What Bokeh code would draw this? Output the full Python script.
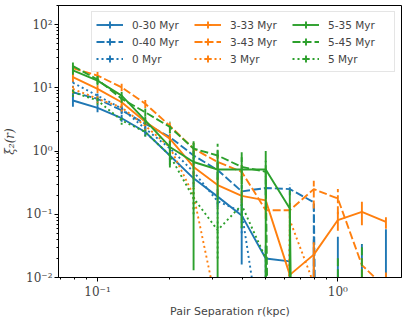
import numpy as np
from bokeh.plotting import figure
from bokeh.models import FixedTicker, CustomJSTickFormatter, Legend, LegendItem
from bokeh.embed import file_html
from bokeh.resources import INLINE

# ---------------- data ----------------
sep_kpc = [0.079, 0.1, 0.126, 0.158, 0.2, 0.251, 0.316, 0.398, 0.501, 0.631, 0.794, 1.0, 1.259, 1.585]

labels = ["0-30 Myr", "0-40 Myr", "0 Myr",
          "3-33 Myr", "3-43 Myr", "3 Myr",
          "5-35 Myr", "5-45 Myr", "5 Myr"]

# xi_2(r) values (0 = not positive, clipped on the log axis)
xi_0_30 = [6.3, 4.8, 3.3, 2.0, 0.85, 0.37, 0.19, 0.096, 0.020, 0.018, 0, 0, 0, 0]
xi_0_40 = [8.5, 6.7, 4.4, 2.7, 1.66, 0.85, 0.50, 0.23, 0.26, 0.25, 0.155, 0, 0, 0]
xi_0 = [12.0, 7.5, 4.7, 2.25, 1.1, 0.47, 0.16, 0.11, 0.00036, 0, 0, 0, 0, 0]
xi_3_33 = [14.7, 9.6, 5.9, 2.9, 1.57, 0.56, 0.29, 0.195, 0.166, 0.011, 0.023, 0.081, 0.109, 0.076]
xi_3_43 = [20.4, 15.6, 10.2, 5.6, 2.5, 1.09, 0.67, 0.47, 0.116, 0.116, 0.25, 0.177, 0.0157, 0.0068]
xi_3 = [9.6, 6.7, 4.9, 2.5, 1.15, 0.2, 0.003, 0, 0, 0.081, 0.008, 0, 0, 0]
xi_5_35 = [18.8, 13.0, 7.5, 3.05, 1.16, 0.67, 0.51, 0.51, 0.51, 0.123, 0, 0, 0, 0]
xi_5_45 = [22.0, 13.5, 6.7, 4.1, 2.4, 1.09, 0.85, 0.56, 0.47, 0, 0, 0, 0, 0]
xi_5 = [8.5, 6.3, 3.05, 2.0, 0.85, 0.18, 0.056, 0.14, 0.02, 0, 0, 0, 0, 0]

# error-bar lower / upper ends
lo_0_30 = [5.0, 4.1, 2.9, 1.7, 0.65, 0.27, 0.13, 0.016, 0.008, 0.006, 0, 0, 0, 0]
hi_0_30 = [7.8, 5.5, 3.7, 2.3, 1.05, 0.47, 0.25, 0.176, 0.032, 0.03, 0.04, 0.044, 0.034, 0.058]
lo_0_40 = [7.0, 5.7, 3.8, 2.3, 1.3, 0.6, 0.35, 0.17, 0.2, 0.2, 0, 0, 0, 0]
hi_0_40 = [10.0, 7.7, 5.0, 3.1, 2.0, 1.1, 0.65, 0.29, 0.3, 0.3, 0.155, 0, 0, 0]
lo_0 = [10.0, 6.3, 4.0, 1.9, 0.85, 0.3, 0.1, 0.05, 0, 0, 0, 0, 0, 0]
hi_0 = [14.0, 8.7, 5.4, 2.6, 1.35, 0.64, 0.22, 0.17, 0, 0, 0, 0, 0, 0]
lo_3_33 = [12.5, 8.3, 5.1, 2.5, 1.3, 0.4, 0.2, 0.15, 0.13, 0, 0.01, 0.055, 0.067, 0.059]
hi_3_33 = [17.0, 11.0, 6.7, 3.3, 1.85, 0.7, 0.38, 0.24, 0.2, 0.02, 0.036, 0.11, 0.157, 0.09]
lo_3_43 = [17.0, 13.5, 8.8, 4.8, 2.1, 0.85, 0.5, 0.35, 0.085, 0.085, 0.123, 0.1, 0.01, 0]
hi_3_43 = [24.0, 18.0, 11.6, 6.4, 2.9, 1.35, 0.85, 0.6, 0.15, 0.15, 0.34, 0.25, 0.022, 0.012]
lo_3 = [8.2, 5.7, 4.2, 2.1, 0.9, 0.12, 0, 0, 0, 0.05, 0, 0, 0, 0]
hi_3 = [11.0, 7.7, 5.6, 2.9, 1.4, 0.45, 0, 0, 0, 0.11, 0, 0, 0, 0]
lo_5_35 = [16.0, 11.0, 6.4, 2.6, 0.55, 0.013, 0, 0.06, 0, 0, 0, 0, 0, 0]
hi_5_35 = [22.0, 15.0, 8.6, 3.5, 1.45, 1.33, 1.02, 0.96, 1.0, 0.24, 0, 0, 0, 0]
lo_5_45 = [19.0, 11.5, 5.8, 3.5, 1.9, 0.75, 0.35, 0.3, 0.2, 0, 0, 0, 0, 0]
hi_5_45 = [25.0, 15.5, 7.6, 4.7, 2.9, 1.43, 1.3, 0.8, 0.7, 0, 0, 0.022, 0.034, 0]
lo_5 = [7.2, 5.4, 2.6, 1.7, 0.6, 0.1, 0.02, 0.08, 0.01, 0, 0, 0, 0, 0]
hi_5 = [9.8, 7.2, 3.5, 2.3, 1.1, 0.26, 0.09, 0.2, 0.03, 0, 0, 0, 0, 0]

x_major_ticks = [0.1, 1.0]
y_major_ticks = [0.01, 0.1, 1.0, 10.0, 100.0]

# ---------------- styling ----------------
BLUE, ORANGE, GREEN = "#1f77b4", "#ff7f0e", "#2ca02c"
colors = [BLUE, BLUE, BLUE, ORANGE, ORANGE, ORANGE, GREEN, GREEN, GREEN]
dashes = ["solid", "8 3", "2 3"] * 3
series = [(xi_0_30, lo_0_30, hi_0_30), (xi_0_40, lo_0_40, hi_0_40), (xi_0, lo_0, hi_0),
          (xi_3_33, lo_3_33, hi_3_33), (xi_3_43, lo_3_43, hi_3_43), (xi_3, lo_3, hi_3),
          (xi_5_35, lo_5_35, hi_5_35), (xi_5_45, lo_5_45, hi_5_45), (xi_5, lo_5, hi_5)]
LW = 1.9
CLIP = 1e-30

p = figure(frame_width=343, frame_height=272, x_axis_type="log", y_axis_type="log",
           x_range=(0.0688, 1.84), y_range=(0.01, 200),
           output_backend="svg", toolbar_location=None,
           min_border_left=51, min_border_right=6, min_border_top=0, min_border_bottom=34)
p.margin = (5, 0, 0, 0)
p.xgrid.visible = False
p.ygrid.visible = False
p.outline_line_color = "black"
p.outline_line_width = 1
p.background_fill_color = "white"

x = np.array(sep_kpc)
items = []
for (yv, lo, hi), c, d, lab in zip(series, colors, dashes, labels):
    yv = np.array(yv, dtype=float)
    lo = np.array(lo, dtype=float)
    hi = np.array(hi, dtype=float)
    yl = np.where(yv > 0, yv, CLIP)
    lr = p.line(x, yl, line_color=c, line_width=LW, line_dash=d, line_join="round")
    m = hi > 0
    p.segment(x0=x[m], y0=np.maximum(lo[m], CLIP), x1=x[m], y1=hi[m],
              line_color=c, line_width=LW, line_dash=d)
    # zero-size markers: invisible in the plot, draw the error-bar tick in the legend
    mk = p.scatter(x=x, y=yl, size=0, marker="cross", line_color=c, line_width=LW)
    items.append(LegendItem(label=lab, renderers=[lr, mk]))

legend = Legend(items=items, ncols=3, location="top_right", margin=6,
                glyph_width=27, glyph_height=17, label_standoff=9, spacing=0,
                label_width=62, padding=4,
                label_text_font="DejaVu Sans", label_text_font_size="10.5px",
                border_line_color="#cccccc", border_line_width=1,
                background_fill_color="white", background_fill_alpha=0.8)
p.add_layout(legend)

sup_js = """
const e = Math.round(Math.log10(tick));
const m = {'-':'\u207b','0':'\u2070','1':'\u00b9','2':'\u00b2','3':'\u00b3','4':'\u2074',
           '5':'\u2075','6':'\u2076','7':'\u2077','8':'\u2078','9':'\u2079'};
return '10' + String(e).split('').map(ch => m[ch]).join('');
"""

x_minor = [k * 10.0 ** d for d in (-2, -1, 0) for k in range(2, 10)]
y_minor = [k * 10.0 ** d for d in (-2, -1, 0, 1, 2) for k in range(2, 10)]
p.xaxis.ticker = FixedTicker(ticks=x_major_ticks, minor_ticks=x_minor)
p.yaxis.ticker = FixedTicker(ticks=y_major_ticks, minor_ticks=y_minor)
for ax in (p.xaxis[0], p.yaxis[0]):
    ax.formatter = CustomJSTickFormatter(code=sup_js)
    ax.major_tick_out = 4
    ax.major_tick_in = 0
    ax.minor_tick_out = 2
    ax.minor_tick_in = 0
    ax.axis_line_color = "black"
    ax.major_tick_line_color = "black"
    ax.minor_tick_line_color = "black"
    ax.major_label_text_font = "DejaVu Serif"
    ax.major_label_text_font_size = "12px"
    ax.major_label_standoff = 2
    ax.axis_label_text_font_size = "11px"
    ax.axis_label_text_font_style = "normal"

p.xaxis.axis_label = "Pair Separation r(kpc)"
p.xaxis.axis_label_text_font = "DejaVu Sans"
p.xaxis.major_label_standoff = 3
p.xaxis.axis_label_standoff = 3
p.yaxis.axis_label = "\u03be\u2082(r)"
p.yaxis.axis_label_text_font = "DejaVu Serif"
p.yaxis.axis_label_text_font_size = "12px"
p.yaxis.axis_label_text_font_style = "italic"
p.yaxis.axis_label_standoff = 6

open("out.html", "w").write(file_html(p, INLINE))
